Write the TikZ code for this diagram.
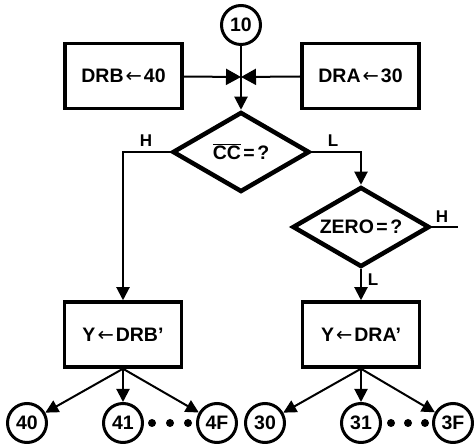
\documentclass[tikz,border=0pt]{standalone}
\usepackage{fontspec}
\setmainfont{Liberation Sans}
\newfontfamily\arrowfont{DejaVu Sans}
\usetikzlibrary{positioning,shapes.geometric,arrows.meta}
\newcommand{\loadarrow}{\kern2pt{\arrowfont\mdseries ←}\kern2pt}
\newcommand{\boxfont}{\bfseries\fontsize{19.5}{21}\selectfont}
\newcommand{\flagfont}{\bfseries\fontsize{17}{19}\selectfont}

\begin{document}
\begin{tikzpicture}[
    x=1pt,y=1pt,
    box/.style={draw,line width=3.5pt,minimum width=117pt,minimum height=65pt,font=\boxfont},
    test/.style={draw,diamond,shape aspect=1.7,line width=4.5pt,minimum width=137pt,
      minimum height=80pt,inner sep=0pt,font=\boxfont},
    entry/.style={draw,circle,line width=3pt,minimum size=39pt,inner sep=0pt,font=\boxfont},
    dot/.style={fill,circle,minimum size=8pt,inner sep=0pt},
    flag/.style={font=\flagfont},
    conn/.style={line width=2pt},
    arr/.style={conn,-{Triangle[length=13pt,width=13pt]}},
    meet/.style={conn,-{Triangle[length=15pt,width=16pt]}}
  ]
  \useasboundingbox (0,0) rectangle (474,444);

  % top: entry point and the two loads
  \node[entry] (c10) at (241,419) {10};
  \node[box] (drb) at (123.5,368) {DRB\loadarrow 40};
  \node[box] (dra) at (360.5,368) {DRA\loadarrow 30};
  \coordinate (join) at (241,367);

  % the two tests
  \node[test] (cc) at (241,292) {$\overline{\mbox{CC}}$\kern2.5pt=\kern2.5pt?};
  \node[test] (zero) at (361,217) {ZERO\kern2.5pt=\kern2.5pt?};
  \coordinate (hout) at (458,217);

  % the two outputs
  \node[box] (yb) at (123,109.5) {Y\loadarrow DRB’};
  \node[box] (ya) at (361,109.5) {Y\loadarrow DRA’};

  % branch targets
  \node[entry] (c40) at (27,21) {40};
  \node[entry] (c41) at (123,21) {41};
  \node[entry] (c4F) at (217,21) {4F};
  \node[entry] (c30) at (265,21) {30};
  \node[entry] (c31) at (361,21) {31};
  \node[entry] (c3F) at (453,21) {3F};
  \foreach \x in {152,170,188,391,408,425}
    \node[dot] (dot\x) at (\x,21) {};

  % flags
  \node[flag] (hcc) at (146,303) {H};
  \node[flag] (lcc) at (333,303) {L};
  \node[flag] (hzero) at (442,227) {H};
  \node[flag] (lzero) at (373,164) {L};

  \draw[conn] (c10) -- (join);
  \draw[meet] (drb) -- (join);
  \draw[meet] (dra) -- (join);
  \draw[arr] (join) -- (cc.north);
  \draw[arr] (cc.west) -| (yb.north);
  \draw[arr] (cc.east) -| (zero.north);
  \draw[conn] (zero.east) -- (hout);
  \draw[arr] (zero.south) -- (ya.north);
  \foreach \c in {c40,c41,c4F}
    \draw[arr] (yb.south) -- (\c);
  \foreach \c in {c30,c31,c3F}
    \draw[arr] (ya.south) -- (\c);
\end{tikzpicture}
\end{document}
